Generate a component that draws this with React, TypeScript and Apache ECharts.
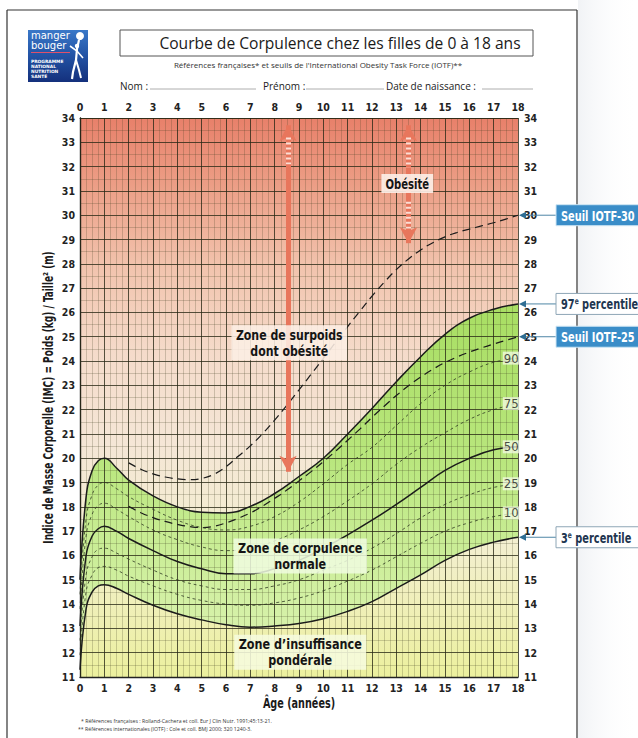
import React, { useEffect, useRef } from "react";
import * as echarts from "echarts";

// ---------- data ----------
const AGES = [0, 0.25, 0.5, 0.75, 1, 1.5, 2, 3, 4, 5, 6, 7, 8, 9, 10, 11, 12, 13, 14, 15, 16, 17, 18];
const P97 = [15.0, 18.4, 19.5, 19.9, 20.0, 19.6, 19.1, 18.45, 18.0, 17.78, 17.75, 18.02, 18.55, 19.25, 20.0, 21.0, 22.05, 23.15, 24.18, 25.1, 25.76, 26.13, 26.35];
const P90 = [14.4, 17.5, 18.5, 18.9, 19.0, 18.75, 18.42, 17.9, 17.45, 17.15, 17.05, 17.2, 17.6, 18.2, 18.95, 19.75, 20.45, 21.35, 22.25, 23.0, 23.55, 23.95, 24.12];
const P75 = [13.8, 16.8, 17.7, 18.05, 18.15, 17.9, 17.6, 17.05, 16.65, 16.35, 16.2, 16.3, 16.6, 17.05, 17.6, 18.25, 18.95, 19.75, 20.45, 21.05, 21.6, 22.0, 22.25];
const P50 = [13.1, 16.0, 16.8, 17.1, 17.2, 17.0, 16.7, 16.2, 15.75, 15.45, 15.25, 15.25, 15.45, 15.8, 16.3, 16.85, 17.45, 18.1, 18.8, 19.5, 20.0, 20.35, 20.47];
const P25 = [12.5, 15.2, 15.95, 16.25, 16.3, 16.1, 15.85, 15.4, 15.0, 14.75, 14.6, 14.6, 14.75, 15.0, 15.4, 15.8, 16.3, 16.9, 17.55, 18.1, 18.5, 18.8, 18.95];
const P10 = [11.9, 14.5, 15.2, 15.5, 15.55, 15.4, 15.15, 14.75, 14.4, 14.15, 14.0, 13.95, 14.05, 14.25, 14.55, 14.95, 15.4, 15.95, 16.5, 17.0, 17.35, 17.6, 17.75];
const P3 = [11.3, 13.8, 14.5, 14.75, 14.8, 14.65, 14.4, 13.95, 13.6, 13.35, 13.15, 13.05, 13.1, 13.2, 13.4, 13.7, 14.1, 14.65, 15.2, 15.8, 16.25, 16.55, 16.75];

const IOTF_AGES = [2, 2.5, 3, 3.5, 4, 4.5, 5, 5.5, 6, 6.5, 7, 7.5, 8, 8.5, 9, 9.5, 10, 10.5, 11, 11.5, 12, 12.5, 13, 13.5, 14, 14.5, 15, 15.5, 16, 16.5, 17, 17.5, 18];
const IOTF30 = [19.81, 19.55, 19.36, 19.23, 19.15, 19.12, 19.17, 19.34, 19.65, 20.08, 20.51, 21.01, 21.57, 22.18, 22.81, 23.46, 24.11, 24.77, 25.42, 26.05, 26.67, 27.24, 27.76, 28.2, 28.57, 28.87, 29.11, 29.29, 29.43, 29.56, 29.69, 29.84, 30.0];
const IOTF25 = [18.02, 17.76, 17.56, 17.4, 17.28, 17.19, 17.15, 17.2, 17.34, 17.53, 17.75, 18.03, 18.35, 18.69, 19.07, 19.45, 19.86, 20.29, 20.74, 21.2, 21.68, 22.14, 22.58, 22.98, 23.34, 23.66, 23.94, 24.17, 24.37, 24.54, 24.7, 24.85, 25.0];

const AGE_MIN = 0;
const AGE_MAX = 18;
const BMI_MIN = 11;
const BMI_MAX = 34;

const TITLE = "Courbe de Corpulence chez les filles de 0 à 18 ans";
const SUBTITLE = "Références françaises* et seuils de l'International Obesity Task Force (IOTF)**";
const Y_NAME = "Indice de Masse Corporelle (IMC) = Poids (kg) / Taille² (m)";
const X_NAME = "Âge (années)";
const NOTE1 = "* Références françaises : Rolland-Cachera et coll. Eur J Clin Nutr. 1991;45:13-21.";
const NOTE2 = "** Références internationales (IOTF) : Cole et coll. BMJ 2000; 320 1240-3.";

// annotations (data coordinates)
const ZONES = [
  { text: "Obésité", age: 13.45, bmi: 31.3, bg: "rgba(252,238,230,0.92)", scale: 0.8 },
  { text: "Zone de surpoids\ndont obésité", age: 8.6, bmi: 24.75, bg: "rgba(252,238,228,0.88)", scale: 0.87 },
  { text: "Zone de corpulence\nnormale", age: 9.05, bmi: 15.98, bg: "rgba(240,252,225,0.85)", scale: 0.89 },
  { text: "Zone d\u2019insuffisance\npondérale", age: 9.05, bmi: 12.02, bg: "rgba(246,250,222,0.88)", scale: 0.89 },
];
const ARROWS = [
  { age: 8.55, from: 33.7, to: 19.45 },
  { age: 13.5, from: 33.7, to: 28.85 },
];
const ARROW_DASHES = [
  { age: 8.55, from: 33.2, to: 32.1 },
  { age: 13.5, from: 33.2, to: 31.95 },
  { age: 13.5, from: 30.55, to: 29.45 },
];

// ---------- styles ----------
const FONT_C = "'Liberation Sans Narrow','Arial Narrow','DejaVu Sans Condensed','Roboto',sans-serif";
const FONT_T = "'Open Sans','Noto Sans',sans-serif";
const GRID = { left: 80, top: 118, width: 438, height: 559 };

const pairs = (xs: number[], ys: number[]) => xs.map((x, i) => [x, ys[i]]);
const last = (a: number[]) => a[a.length - 1];

const bgGradient = () => ({
  type: "linear",
  x: 0,
  y: GRID.top,
  x2: 0,
  y2: GRID.top + GRID.height,
  global: true,
  colorStops: [
    { offset: 0, color: "#e8806a" },
    { offset: 0.12, color: "#ec9e86" },
    { offset: 0.27, color: "#f2c4ae" },
    { offset: 0.42, color: "#f5dbca" },
    { offset: 0.58, color: "#f5e6d6" },
    { offset: 0.76, color: "#f3efd0" },
    { offset: 1, color: "#ecf09e" },
  ],
});

const greenGradient = () => ({
  type: "linear",
  x: 0,
  y: GRID.top,
  x2: 0,
  y2: GRID.top + GRID.height,
  global: true,
  colorStops: [
    { offset: 0, color: "#a2d85c" },
    { offset: 0.35, color: "#a9de64" },
    { offset: 0.6, color: "#b8e67c" },
    { offset: 0.82, color: "#cfef9e" },
    { offset: 1, color: "#def4b6" },
  ],
});

const tickLabel = { fontFamily: FONT_C, fontWeight: "bold", fontSize: 10.5, color: "#222" };

function curve(name: string, xs: number[], ys: number[], kind: "solid" | "thin" | "iotf") {
  const ls =
    kind === "solid"
      ? { color: "#1b1b1b", width: 1.5, type: "solid" }
      : kind === "thin"
      ? { color: "#2f3a22", width: 0.8, type: [3, 3] }
      : { color: "#1b1b1b", width: 1.2, type: [8, 5] };
  return {
    name,
    type: "line",
    data: pairs(xs, ys),
    smooth: 0.45,
    symbol: "none",
    lineStyle: ls,
    silent: true,
    z: 5,
  };
}

function buildOption() {
  const lastAge = last(AGES);
  const pctLabels = [
    { name: "90", v: last(P90) },
    { name: "75", v: last(P75) },
    { name: "50", v: last(P50) },
    { name: "25", v: last(P25) },
    { name: "10", v: last(P10) },
  ];
  return {
    animation: false,
    backgroundColor: "#ffffff",
    grid: { ...GRID, show: true, backgroundColor: bgGradient(), borderWidth: 0 },
    xAxis: [
      {
        type: "value",
        min: AGE_MIN,
        max: AGE_MAX,
        interval: 1,
        position: "bottom",
        z: 3,
        axisLine: { show: true, lineStyle: { color: "#222", width: 1.4 } },
        axisTick: { show: false },
        axisLabel: { ...tickLabel, margin: 5 },
        splitLine: { show: true, lineStyle: { color: "rgba(40,40,20,0.78)", width: 1 } },
        minorTick: { show: false, splitNumber: 4 },
        minorSplitLine: { show: true, lineStyle: { color: "rgba(60,60,30,0.33)", width: 0.7 } },
      },
      {
        type: "value",
        min: AGE_MIN,
        max: AGE_MAX,
        interval: 1,
        position: "top",
        z: 3,
        axisLine: { show: true, lineStyle: { color: "rgba(40,40,20,0.7)", width: 1 } },
        axisTick: { show: false },
        axisLabel: { ...tickLabel, margin: 6 },
        splitLine: { show: false },
      },
    ],
    yAxis: [
      {
        type: "value",
        min: BMI_MIN,
        max: BMI_MAX,
        interval: 1,
        position: "left",
        z: 3,
        axisLine: { show: true, lineStyle: { color: "#222", width: 1.4 } },
        axisTick: { show: false },
        axisLabel: { ...tickLabel, margin: 5 },
        splitLine: { show: true, lineStyle: { color: "rgba(40,40,20,0.78)", width: 1 } },
        minorTick: { show: false, splitNumber: 2 },
        minorSplitLine: { show: true, lineStyle: { color: "rgba(60,60,30,0.33)", width: 0.7 } },
      },
      {
        type: "value",
        min: BMI_MIN,
        max: BMI_MAX,
        interval: 1,
        position: "right",
        z: 3,
        axisLine: { show: true, lineStyle: { color: "rgba(40,40,20,0.7)", width: 1 } },
        axisTick: { show: false },
        axisLabel: { ...tickLabel, margin: 6 },
        splitLine: { show: false },
      },
    ],
    series: [
      {
        name: "fill97",
        type: "line",
        data: pairs(AGES, P97),
        smooth: 0.45,
        symbol: "none",
        lineStyle: { opacity: 0 },
        areaStyle: { color: greenGradient(), opacity: 1, origin: "start" },
        silent: true,
        z: 2,
      },
      {
        name: "cover3",
        type: "line",
        data: pairs(AGES, P3),
        smooth: 0.45,
        symbol: "none",
        lineStyle: { opacity: 0 },
        areaStyle: { color: bgGradient(), opacity: 1, origin: "start" },
        silent: true,
        z: 2,
      },
      curve("IOTF-30", IOTF_AGES, IOTF30, "iotf"),
      curve("IOTF-25", IOTF_AGES, IOTF25, "iotf"),
      curve("P90", AGES, P90, "thin"),
      curve("P75", AGES, P75, "thin"),
      curve("P25", AGES, P25, "thin"),
      curve("P10", AGES, P10, "thin"),
      curve("P97", AGES, P97, "solid"),
      curve("P50", AGES, P50, "solid"),
      curve("P3", AGES, P3, "solid"),
      {
        name: "arrows",
        type: "scatter",
        symbolSize: 0,
        silent: true,
        z: 7,
        data: [],
        markLine: {
          silent: true,
          z: 7,
          symbol: ["arrow", "arrow"],
          symbolSize: [13, 16],
          label: { show: false },
          lineStyle: { color: "#e8765c", width: 5, type: "solid", opacity: 1 },
          data: [
            ...ARROWS.map((a) => [{ coord: [a.age, a.from] }, { coord: [a.age, a.to] }]),
            ...ARROW_DASHES.map((a) => [
              { coord: [a.age, a.from], symbol: "none", lineStyle: { color: "rgba(252,228,218,0.95)", width: 5, type: [2, 3] } },
              { coord: [a.age, a.to], symbol: "none" },
            ]),
          ],
        },
      },
      {
        name: "pct",
        type: "scatter",
        symbolSize: 0,
        silent: true,
        z: 8,
        data: pctLabels.map((p) => ({ value: [lastAge - 0.28, p.v], name: p.name })),
        label: {
          show: true,
          position: "inside",
          formatter: "{b}",
          fontFamily: FONT_C,
          fontSize: 13,
          color: "#1d1d1d",
          backgroundColor: "rgba(248,252,236,0.9)",
          padding: [0, 1, 0, 1],
        },
      },
    ],
  };
}

function txt(text: string, x: number, y: number, size: number, opts: any = {}) {
  const el: any = {
    type: "text",
    silent: true,
    x,
    y,
    style: {
      text,
      x: 0,
      y: 0,
      fontSize: size,
      fontFamily: opts.family || FONT_T,
      fontWeight: opts.weight || "normal",
      fill: opts.fill || "#222",
      align: opts.align || "left",
      textAlign: opts.align || "left",
      verticalAlign: "middle",
      textVerticalAlign: "middle",
    },
    z: opts.z || 10,
  };
  if (opts.rich) el.style.rich = opts.rich;
  if (opts.lineHeight) el.style.lineHeight = opts.lineHeight;
  if (opts.bg) {
    el.style.backgroundColor = opts.bg;
    el.style.padding = opts.padding || [2, 4];
  }
  if (opts.scaleX) el.scaleX = opts.scaleX;
  if (opts.rotation) el.rotation = opts.rotation;
  return el;
}

function staticGraphics() {
  const el: any[] = [];
  // page shadow on the right
  el.push({
    type: "rect",
    silent: true,
    z: 1,
    shape: { x: 578, y: 0, width: 60, height: 738 },
    style: {
      fill: {
        type: "linear", x: 0, y: 0, x2: 1, y2: 0,
        colorStops: [{ offset: 0, color: "rgba(215,220,228,0.35)" }, { offset: 1, color: "rgba(255,255,255,0)" }],
      },
    },
  });
  // frame
  const frame = { stroke: "#333", lineWidth: 1.2 };
  el.push({ type: "line", silent: true, z: 2, shape: { x1: 7, y1: 10, x2: 577, y2: 10 }, style: frame });
  el.push({ type: "line", silent: true, z: 2, shape: { x1: 7, y1: 10, x2: 7, y2: 738 }, style: frame });
  el.push({ type: "line", silent: true, z: 2, shape: { x1: 577, y1: 10, x2: 577, y2: 738 }, style: frame });

  // logo
  el.push({
    type: "rect",
    silent: true,
    z: 10,
    shape: { x: 28, y: 30, width: 60, height: 52 },
    style: {
      fill: {
        type: "linear", x: 0, y: 0, x2: 0, y2: 1,
        colorStops: [{ offset: 0, color: "#3a78c8" }, { offset: 0.45, color: "#2456a8" }, { offset: 1, color: "#14307c" }],
      },
    },
  });
  el.push(txt("manger", 31, 35.5, 10, { fill: "#ffffff", family: "'DejaVu Sans',sans-serif", z: 11 }));
  el.push(txt("bouger", 31, 45.5, 10, { fill: "#ffffff", family: "'DejaVu Sans',sans-serif", z: 11 }));
  el.push({ type: "line", silent: true, z: 11, shape: { x1: 31, y1: 52.5, x2: 70, y2: 52.5 }, style: { stroke: "#e0506a", lineWidth: 1 } });
  ["PROGRAMME", "NATIONAL", "NUTRITION", "SANTÉ"].forEach((w, i) =>
    el.push(txt(w, 31, 61 + i * 5.3, 4.4, { fill: "#ffffff", weight: "bold", family: "'DejaVu Sans',sans-serif", z: 11 }))
  );
  // little figure
  el.push({ type: "circle", silent: true, z: 11, shape: { cx: 80, cy: 36, r: 4 }, style: { fill: "#ffffff" } });
  el.push({ type: "circle", silent: true, z: 11, shape: { cx: 77, cy: 46, r: 2.2 }, style: { fill: "#ffffff" } });
  el.push({
    type: "polyline", silent: true, z: 11,
    shape: { points: [[79, 40], [77, 49], [76, 60], [73, 72], [72, 79]] },
    style: { stroke: "#ffffff", lineWidth: 2.2, fill: null },
  });
  el.push({ type: "polyline", silent: true, z: 11, shape: { points: [[76, 60], [79, 70], [81, 78]] }, style: { stroke: "#ffffff", lineWidth: 2, fill: null } });
  el.push({ type: "polyline", silent: true, z: 11, shape: { points: [[70, 46], [77, 51], [83, 58]] }, style: { stroke: "#ffffff", lineWidth: 1.6, fill: null } });

  // title box
  el.push({
    type: "rect", silent: true, z: 10,
    shape: { x: 120, y: 30, width: 413, height: 26 },
    style: { fill: "#ffffff", stroke: "#555", lineWidth: 1 },
  });
  el.push(txt(TITLE, 340, 43, 15.6, { align: "center", fill: "#1a1a1a" }));
  el.push(txt(SUBTITLE, 318, 64.5, 8, { align: "center", fill: "#333" }));

  // name line
  const lineStyle = { stroke: "#9a9a9a", lineWidth: 0.8 };
  el.push(txt("Nom :", 120, 86, 10, { fill: "#222" }));
  el.push({ type: "line", silent: true, z: 10, shape: { x1: 150, y1: 89, x2: 256, y2: 89 }, style: lineStyle });
  el.push(txt("Prénom :", 263, 86, 10, { fill: "#222" }));
  el.push({ type: "line", silent: true, z: 10, shape: { x1: 306, y1: 89, x2: 384, y2: 89 }, style: lineStyle });
  el.push(txt("Date de naissance :", 386, 86, 10, { fill: "#222" }));
  el.push({ type: "line", silent: true, z: 10, shape: { x1: 482, y1: 89, x2: 533, y2: 89 }, style: lineStyle });

  // axis names
  el.push(txt(Y_NAME, 48, GRID.top + GRID.height / 2, 13.5, {
    align: "center", family: FONT_C, weight: "bold", fill: "#1a1a1a", rotation: Math.PI / 2, scaleX: 0.74,
  }));
  el.push(txt(X_NAME, GRID.left + GRID.width / 2, 703, 14.5, {
    align: "center", family: FONT_C, weight: "bold", fill: "#1a1a1a", scaleX: 0.74,
  }));

  // footnotes
  el.push(txt(NOTE1, 81, 721, 5.2, { fill: "#333" }));
  el.push(txt(NOTE2, 78, 729, 5.2, { fill: "#333" }));
  return el;
}

function dynamicGraphics(toPix: (age: number, bmi: number) => number[], xRight: number) {
  const el: any[] = [];
  // zone labels
  ZONES.forEach((zn) => {
    const [px, py] = toPix(zn.age, zn.bmi);
    el.push(txt(zn.text, px, py, 14, {
      align: "center", family: FONT_C, weight: "bold", fill: "#151515",
      bg: zn.bg, padding: [2, 5, 1, 5], lineHeight: 16, scaleX: zn.scale, z: 12,
    }));
  });
  // right-hand labels
  const items = [
    { v: last(IOTF30), text: "Seuil IOTF-30", blue: true },
    { v: last(P97), text: "97{s|e} percentile", blue: false },
    { v: last(IOTF25), text: "Seuil IOTF-25", blue: true },
    { v: last(P3), text: "3{s|e} percentile", blue: false },
  ];
  items.forEach((it) => {
    const y = toPix(AGE_MAX, it.v)[1];
    const bx = 556;
    el.push({ type: "line", silent: true, z: 12, shape: { x1: xRight + 4, y1: y, x2: bx, y2: y }, style: { stroke: "#4f86a6", lineWidth: 1 } });
    el.push({
      type: "polygon", silent: true, z: 12,
      shape: { points: [[xRight + 1, y], [xRight + 8, y - 3.5], [xRight + 8, y + 3.5]] },
      style: { fill: "#2e6e94" },
    });
    el.push({
      type: "rect", silent: true, z: 12,
      shape: { x: bx, y: y - 10.5, width: 95, height: 21 },
      style: it.blue ? { fill: "#3a8dc8", stroke: "#cfe6f4", lineWidth: 1 } : { fill: "#ffffff", stroke: "#8ea6b6", lineWidth: 1 },
    });
    el.push(
      txt(it.text, bx + 5, y + 0.5, 14, {
        family: FONT_C,
        weight: "bold",
        fill: it.blue ? "#ffffff" : "#1e3650",
        z: 13,
        scaleX: 0.78,
        rich: { s: { fontSize: 8.5, verticalAlign: "top", fontFamily: FONT_C, fontWeight: "bold", fill: "#1e3650", padding: [0, 0, 6, 0] } },
      })
    );
  });
  return el;
}

export default function App() {
  const ref = useRef<HTMLDivElement>(null);
  useEffect(() => {
    if (!ref.current) return;
    const chart = echarts.init(ref.current, null, { renderer: "svg" });
    chart.setOption(buildOption() as any);
    const toPix = (age: number, bmi: number) =>
      chart.convertToPixel({ xAxisIndex: 0, yAxisIndex: 0 } as any, [age, bmi]) as unknown as number[];
    const xRight = toPix(AGE_MAX, BMI_MIN)[0];
    chart.setOption({ graphic: { elements: [...staticGraphics(), ...dynamicGraphics(toPix, xRight)] } } as any);
    return () => chart.dispose();
  }, []);
  return (
    <div
      ref={ref}
      style={{ position: "fixed", left: 0, top: 0, width: 638, height: 738, background: "#ffffff" }}
    />
  );
}
